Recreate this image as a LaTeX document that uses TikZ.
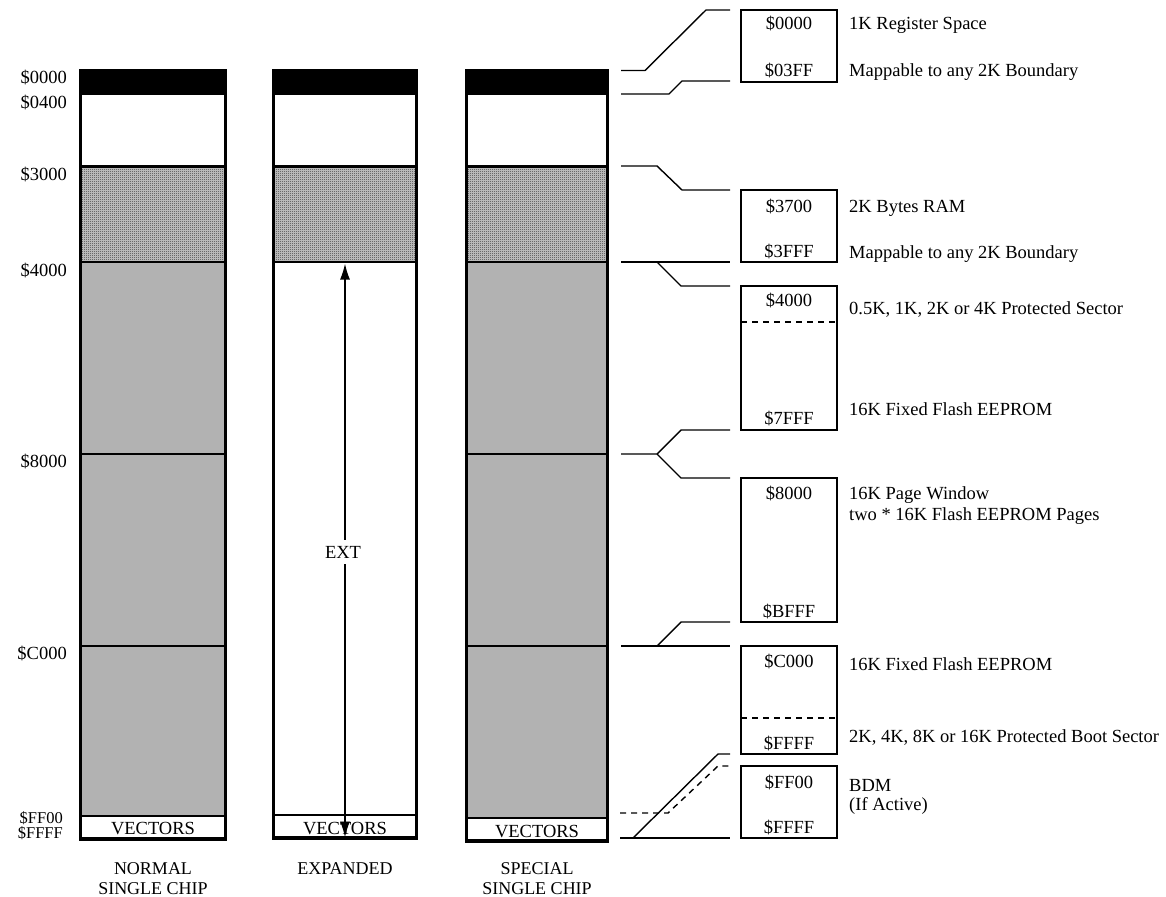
\documentclass[tikz,border=0pt]{standalone}
\usepackage{fontspec}
\setmainfont{Liberation Serif}
\usetikzlibrary{arrows.meta,patterns}
\pgfdeclarepatternformonly{finecheck}{\pgfpointorigin}{\pgfpoint{2pt}{2pt}}{\pgfpoint{2pt}{2pt}}{%
  \pgfpathrectangle{\pgfpointorigin}{\pgfpoint{1pt}{1pt}}%
  \pgfpathrectangle{\pgfpoint{1pt}{1pt}}{\pgfpoint{1pt}{1pt}}%
  \pgfusepath{fill}}
\begin{document}
\begin{tikzpicture}[x=1pt,y=-1pt,
  font=\fontsize{18.5}{21}\selectfont,
  addrlab/.style={anchor=base east,inner sep=0pt},
  rtxt/.style={anchor=base west,inner sep=0pt},
  ctxt/.style={anchor=base,inner sep=0pt},
  modelab/.style={anchor=base,inner sep=0pt,font=\fontsize{18}{20}\selectfont},
  outerline/.style={line width=3.2pt},
  innerline/.style={line width=2.6pt},
  conn/.style={line width=1.4pt},
  mbox/.style={line width=1.6pt},
  dsh/.style={line width=1.4pt,dash pattern=on 6pt off 5pt},
  flash/.style={fill=black!30},
  hatchbg/.style={fill=black!20},
  hatch/.style={pattern=finecheck,pattern color=black!80}]
\useasboundingbox (0,0) rectangle (1166,896);

% ---------- column 1 : normal single chip
\fill[flash] (80.5,262) rectangle (225.5,816);
\fill[hatchbg] (80.5,166.5) rectangle (225.5,262);
\fill[hatch] (80.5,166.5) rectangle (225.5,262);
\fill[black] (79,69) rectangle (227,95);
\draw[innerline] (80.5,166.5) -- (225.5,166.5);
\draw[innerline] (80.5,262) -- (225.5,262);
\draw[innerline] (80.5,454) -- (225.5,454);
\draw[innerline] (80.5,646) -- (225.5,646);
\draw[innerline] (80.5,816) -- (225.5,816);
\draw[outerline] (80.5,70.5) rectangle (225.5,839);
\node[ctxt] (v1) at (153,834) {VECTORS};

% ---------- column 2 : expanded
\fill[hatchbg] (273.5,166.5) rectangle (416.5,262);
\fill[hatch] (273.5,166.5) rectangle (416.5,262);
\fill[black] (272,69) rectangle (418,95);
\draw[innerline] (273.5,166.5) -- (416.5,166.5);
\draw[innerline] (273.5,262) -- (416.5,262);
\draw[innerline] (273.5,815) -- (416.5,815);
\draw[outerline] (273.5,70.5) rectangle (416.5,838);
\node[ctxt] (v2) at (345,834) {VECTORS};
\coordinate (extTop) at (345,263.5);
\coordinate (extBot) at (345,837.5);
\draw[line width=1.6pt,{Latex[length=16pt,width=10pt]}-{Latex[length=16pt,width=10pt]}] (extTop) -- (extBot);
\node[fill=white,inner sep=1pt,minimum height=24pt] (ext) at (343,552) {EXT};

% ---------- column 3 : special single chip
\fill[flash] (466.5,262) rectangle (607.5,818);
\fill[hatchbg] (466.5,166.5) rectangle (607.5,262);
\fill[hatch] (466.5,166.5) rectangle (607.5,262);
\fill[black] (465,69) rectangle (609,95);
\draw[innerline] (466.5,166.5) -- (607.5,166.5);
\draw[innerline] (466.5,262) -- (607.5,262);
\draw[innerline] (466.5,454) -- (607.5,454);
\draw[innerline] (466.5,646) -- (607.5,646);
\draw[innerline] (466.5,818) -- (607.5,818);
\draw[outerline] (466.5,70.5) rectangle (607.5,841);
\node[ctxt] (v3) at (537,837) {VECTORS};

% ---------- address labels on the left
\node[addrlab] (a0000) at (67,84) {\$0000};
\node[addrlab] (a0400) at (67,109) {\$0400};
\node[addrlab] (a3000) at (67,180) {\$3000};
\node[addrlab] (a4000) at (67,276) {\$4000};
\node[addrlab] (a8000) at (67,467) {\$8000};
\node[addrlab] (aC000) at (67,659) {\$C000};
\node[addrlab,font=\fontsize{16.5}{18}\selectfont] (aFF00) at (63,823) {\$FF00};
\node[addrlab,font=\fontsize{16.5}{18}\selectfont] (aFFFF) at (63,838) {\$FFFF};

% ---------- mode labels
\node[modelab] (m1a) at (153,874) {NORMAL};
\node[modelab] (m1b) at (153,894) {SINGLE CHIP};
\node[modelab] (m2) at (345,874) {EXPANDED};
\node[modelab] (m3a) at (537,874) {SPECIAL};
\node[modelab] (m3b) at (537,894) {SINGLE CHIP};

% ---------- detail boxes on the right
\draw[mbox] (741,10) rectangle (837,82);
\draw[mbox] (741,190) rectangle (837,262);
\draw[mbox] (741,286) rectangle (837,430);
\draw[dsh] (741,322) -- (837,322);
\draw[mbox] (741,478) rectangle (837,622);
\draw[mbox] (741,646) rectangle (837,754);
\draw[dsh] (741,718) -- (837,718);
\draw[mbox] (741,766) rectangle (837,838);

\node[ctxt] (b1a) at (789,30) {\$0000};
\node[ctxt] (b1b) at (789,77) {\$03FF};
\node[ctxt] (b2a) at (789,212) {\$3700};
\node[ctxt] (b2b) at (789,257) {\$3FFF};
\node[ctxt] (b3a) at (789,306) {\$4000};
\node[ctxt] (b3b) at (789,424) {\$7FFF};
\node[ctxt] (b4a) at (789,499) {\$8000};
\node[ctxt] (b4b) at (789,617) {\$BFFF};
\node[ctxt] (b5a) at (789,667) {\$C000};
\node[ctxt] (b5b) at (789,749) {\$FFFF};
\node[ctxt] (b6a) at (789,788) {\$FF00};
\node[ctxt] (b6b) at (789,833) {\$FFFF};

% ---------- descriptions
\node[rtxt] (d1) at (849,30) {1K Register Space};
\node[rtxt] (d2) at (849,77) {Mappable to any 2K Boundary};
\node[rtxt] (d3) at (849,212) {2K Bytes RAM};
\node[rtxt] (d4) at (849,258) {Mappable to any 2K Boundary};
\node[rtxt] (d5) at (849,314) {0.5K, 1K, 2K or 4K Protected Sector};
\node[rtxt] (d6) at (849,415) {16K Fixed Flash EEPROM};
\node[rtxt] (d7) at (849,499) {16K Page Window};
\node[rtxt] (d8) at (849,520) {two * 16K Flash EEPROM Pages};
\node[rtxt] (d9) at (849,670) {16K Fixed Flash EEPROM};
\node[rtxt] (d10) at (849,742) {2K, 4K, 8K or 16K Protected Boot Sector};
\node[rtxt] (d11) at (849,791) {BDM};
\node[rtxt] (d12) at (849,810) {(If Active)};

% ---------- connectors
\draw[conn] (621,70.5) -- (645,70.5) -- (706,10) -- (730,10);
\draw[conn] (621,94) -- (669,94) -- (682,81) -- (730,81);
\draw[conn] (621,166) -- (657,166) -- (682,190) -- (730,190);
\draw[conn] (621,262) -- (730,262);
\draw[conn] (657,262) -- (681,286) -- (730,286);
\draw[conn] (621,454) -- (657,454) -- (681,430) -- (730,430);
\draw[conn] (657,454) -- (681,478) -- (730,478);
\draw[conn] (621,646) -- (730,646);
\draw[conn] (657,646) -- (681,622) -- (730,622);
\draw[conn] (620,838) -- (730,838);
\draw[conn] (633,838) -- (718,754) -- (730,754);
\draw[dsh] (620,813) -- (668,813) -- (718,766) -- (730,766);
\end{tikzpicture}
\end{document}
